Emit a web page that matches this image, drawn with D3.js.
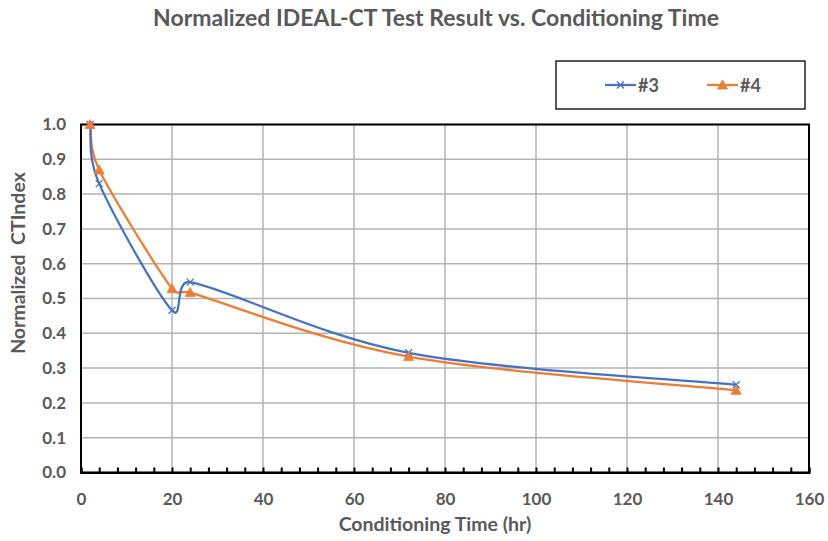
<!DOCTYPE html>
<html>
<head>
<meta charset="utf-8">
<script src="https://cdn.jsdelivr.net/npm/d3@7"></script>
<style>
  html, body { margin: 0; padding: 0; background: #fff; }
  svg { display: block; font-family: Lato, "Open Sans", sans-serif; }
</style>
</head>
<body>
<svg id="chart" width="828" height="541"></svg>
<script>
// Conditioning time (hr) and normalized CT-Index for each specimen
const hours3 = [2, 4, 20, 24, 72, 144];
const values3 = [1.0, 0.83, 0.466, 0.547, 0.344, 0.252];
const hours4 = [2, 4, 20, 24, 72, 144];
const values4 = [1.0, 0.869, 0.528, 0.517, 0.333, 0.236];
const xTicks = [0, 20, 40, 60, 80, 100, 120, 140, 160];
const yTicks = [0, 0.1, 0.2, 0.3, 0.4, 0.5, 0.6, 0.7, 0.8, 0.9, 1.0];

const series = [
  { name: "#3", color: "#4472C4", marker: "x", pts: hours3.map((h, i) => [h, values3[i]]) },
  { name: "#4", color: "#ED7D31", marker: "tri", pts: hours4.map((h, i) => [h, values4[i]]) }
];

const svg = d3.select("#chart");
const plot = { left: 81, right: 809, top: 124.5, bottom: 472.5 };
const x = d3.scaleLinear().domain([0, 160]).range([plot.left, plot.right]);
const y = d3.scaleLinear().domain([0, 1.0]).range([plot.bottom, plot.top]);
const textGray = "#595959";

// Title
svg.append("text")
  .attr("x", 436).attr("y", 26)
  .attr("text-anchor", "middle")
  .attr("font-size", 23).attr("font-weight", "bold")
  .attr("fill", textGray)
  .text("Normalized IDEAL-CT Test Result vs. Conditioning Time");

// Gridlines
const grid = svg.append("g").attr("stroke", "#b3b3b3").attr("stroke-width", 1.5);
grid.selectAll("line.h").data(yTicks).join("line")
  .attr("x1", plot.left).attr("x2", plot.right)
  .attr("y1", d => y(d)).attr("y2", d => y(d));
grid.selectAll("line.v").data(xTicks).join("line")
  .attr("y1", plot.top).attr("y2", plot.bottom)
  .attr("x1", d => x(d)).attr("x2", d => x(d));

// Plot border
svg.append("rect")
  .attr("x", plot.left).attr("y", plot.top)
  .attr("width", plot.right - plot.left).attr("height", plot.bottom - plot.top)
  .attr("fill", "none").attr("stroke", "#000").attr("stroke-width", 2);

// X axis: minor ticks every 4 hr pointing into the plot
const xAxis = d3.axisBottom(x).tickValues(d3.range(0, 161, 4)).tickSize(-5).tickFormat("");
const gx = svg.append("g").attr("transform", `translate(0,${plot.bottom})`).call(xAxis);
gx.select(".domain").attr("stroke", "#000").attr("stroke-width", 2);
gx.selectAll(".tick line").attr("stroke", "#000").attr("stroke-width", 2);

// X tick labels
const gxl = svg.append("g").attr("transform", `translate(0,${plot.bottom})`)
  .call(d3.axisBottom(x).tickValues(xTicks).tickSize(0).tickPadding(0).tickFormat(d3.format("d")));
gxl.select(".domain").remove();
gxl.selectAll("text").attr("dy", 0).attr("y", 32)
  .attr("font-size", 17).attr("font-weight", "bold").attr("fill", textGray)
  .attr("font-family", "Lato, sans-serif");

// Y tick labels
const gyl = svg.append("g").attr("transform", `translate(${plot.left},0)`)
  .call(d3.axisLeft(y).tickValues(yTicks).tickSize(0).tickPadding(15).tickFormat(d3.format(".1f")));
gyl.select(".domain").remove();
gyl.selectAll("text")
  .attr("font-size", 17).attr("font-weight", "bold").attr("fill", textGray)
  .attr("font-family", "Lato, sans-serif");

// Axis titles
svg.append("text")
  .attr("x", 435).attr("y", 531)
  .attr("text-anchor", "middle")
  .attr("font-size", 19.5).attr("font-weight", "bold").attr("fill", textGray)
  .text("Conditioning Time (hr)");
svg.append("text")
  .attr("transform", "translate(25,263) rotate(-90)")
  .attr("text-anchor", "middle")
  .attr("font-size", 19.5).attr("font-weight", "bold").attr("fill", textGray)
  .attr("xml:space", "preserve")
  .text("Normalized  CTIndex");

// Smoothed line: Bezier segments with tangents (P[i+1]-P[i-1])/6,
// each control arm limited to half the length of its own segment.
function smoothPath(data) {
  const p = data.map(d => [x(d[0]), y(d[1])]);
  const n = p.length;
  const path = d3.path();
  path.moveTo(p[0][0], p[0][1]);
  const limit = (vx, vy, maxLen) => {
    const len = Math.hypot(vx, vy);
    if (len > maxLen && len > 0) { const k = maxLen / len; return [vx * k, vy * k]; }
    return [vx, vy];
  };
  for (let i = 0; i < n - 1; i++) {
    const p0 = p[Math.max(i - 1, 0)], p1 = p[i], p2 = p[i + 1], p3 = p[Math.min(i + 2, n - 1)];
    const seg = Math.hypot(p2[0] - p1[0], p2[1] - p1[1]);
    const a = limit((p2[0] - p0[0]) / 6, (p2[1] - p0[1]) / 6, seg * 0.5);
    const b = limit((p3[0] - p1[0]) / 6, (p3[1] - p1[1]) / 6, seg * 0.5);
    path.bezierCurveTo(p1[0] + a[0], p1[1] + a[1], p2[0] - b[0], p2[1] - b[1], p2[0], p2[1]);
  }
  return path.toString();
}

function drawMarker(g, type, color, cx, cy) {
  if (type === "x") {
    const s = 3.5;
    g.append("path")
      .attr("d", `M${cx - s},${cy - s}L${cx + s},${cy + s}M${cx - s},${cy + s}L${cx + s},${cy - s}`)
      .attr("stroke", color).attr("stroke-width", 1.3).attr("fill", "none");
  } else {
    const s = 5;
    g.append("path")
      .attr("d", `M${cx},${cy - s}L${cx + s},${cy + s * 0.8}L${cx - s},${cy + s * 0.8}Z`)
      .attr("fill", color).attr("stroke", color).attr("stroke-width", 0.8);
  }
}

// #4 underneath, #3 on top
series.slice().reverse().forEach(s => {
  svg.append("path")
    .attr("d", smoothPath(s.pts))
    .attr("fill", "none")
    .attr("stroke", s.color)
    .attr("stroke-width", 2.25)
    .attr("stroke-linejoin", "round");
});
series.forEach(s => {
  const g = svg.append("g");
  s.pts.forEach(p => drawMarker(g, s.marker, s.color, x(p[0]), y(p[1])));
});

// Legend
svg.append("rect")
  .attr("x", 556).attr("y", 61).attr("width", 249).attr("height", 48)
  .attr("fill", "#fff").attr("stroke", "#000").attr("stroke-width", 1.3);
const legendItems = [
  { s: series[0], x0: 605 },
  { s: series[1], x0: 707 }
];
legendItems.forEach(it => {
  const ly = 85;
  svg.append("line")
    .attr("x1", it.x0).attr("x2", it.x0 + 31)
    .attr("y1", ly).attr("y2", ly)
    .attr("stroke", it.s.color).attr("stroke-width", 2.25);
  drawMarker(svg, it.s.marker, it.s.color, it.x0 + 15.5, ly);
  svg.append("text")
    .attr("x", it.x0 + 33).attr("y", ly + 6.5)
    .attr("font-size", 18).attr("font-weight", "bold").attr("fill", textGray)
    .text(it.s.name);
});
</script>
</body>
</html>
